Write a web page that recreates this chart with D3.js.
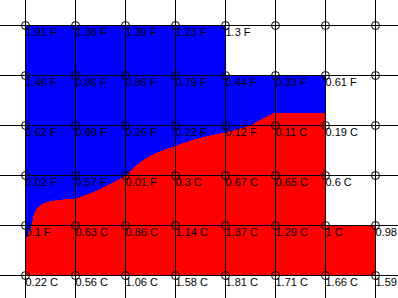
<!DOCTYPE html>
<html>
<head>
<meta charset="utf-8">
<script src="https://cdn.jsdelivr.net/npm/d3@7"></script>
<style>
  body { margin: 0; background: #fff; overflow: hidden; }
  svg { display: block; }
  text { font-family: "Liberation Sans", Arial, sans-serif; font-size: 11px; fill: #000; }
</style>
</head>
<body>
<div id="chart"></div>
<script>
// grid columns / rows (node indices)
const cols = [0, 1, 2, 3, 4, 5, 6, 7];
const rows = [0, 1, 2, 3, 4, 5];

// value read at each node, null = no reading
const amounts = [
  [1.91, 1.36, 1.39, 1.23, 1.3, null, null, null],
  [1.46, 0.86, 0.86, 0.79, 0.44, 0.33, 0.61, null],
  [0.62, 0.89, 0.26, 0.22, 0.12, 0.11, 0.19, null],
  [0.02, 0.57, 0.01, 0.3, 0.67, 0.65, 0.6, null],
  [0.1, 0.63, 0.86, 1.14, 1.37, 1.29, 1, 0.98],
  [0.22, 0.56, 1.06, 1.58, 1.81, 1.71, 1.66, 1.59]
];
// unit at each node: F counts positive (blue), C negative (red)
const units = [
  ["F", "F", "F", "F", "F", null, null, null],
  ["F", "F", "F", "F", "F", "F", "F", null],
  ["F", "F", "F", "F", "F", "C", "C", null],
  ["F", "F", "F", "C", "C", "C", "C", null],
  ["F", "C", "C", "C", "C", "C", "C", "C"],
  ["C", "C", "C", "C", "C", "C", "C", "C"]
];

const w = 398;
const h = 298;

const x = d3.scaleLinear().domain([0, cols.length - 1]).range([25, 375]);
const y = d3.scaleLinear().domain([0, rows.length - 1]).range([25, 275]);

const svg = d3.select("#chart").append("svg")
  .attr("width", w)
  .attr("height", h);

// signed value per node
const signed = rows.map(r => cols.map(c => {
  if (amounts[r][c] == null) return null;
  return units[r][c] === "F" ? amounts[r][c] : -amounts[r][c];
}));

// cells that have all four corners
const cells = [];
for (let r = 0; r < rows.length - 1; r++) {
  for (let c = 0; c < cols.length - 1; c++) {
    if (signed[r][c] != null && signed[r][c + 1] != null &&
        signed[r + 1][c] != null && signed[r + 1][c + 1] != null) {
      cells.push([c, r]);
    }
  }
}

// red base for the filled cells
svg.append("g").selectAll("rect")
  .data(cells)
  .enter()
  .append("rect")
  .attr("x", d => x(d[0]))
  .attr("y", d => y(d[1]))
  .attr("width", d => x(d[0] + 1) - x(d[0]))
  .attr("height", d => y(d[1] + 1) - y(d[1]))
  .attr("fill", "#ff0000")
  .attr("shape-rendering", "crispEdges");

// fine grid, bilinear inside each filled cell
const sub = 50;
const nx = (cols.length - 1) * sub + 1;
const ny = (rows.length - 1) * sub + 1;
const isCell = {};
cells.forEach(d => { isCell[d[0] + "," + d[1]] = true; });

function candidates(g, n) {
  const f = Math.floor(g);
  const out = [];
  if (f <= n - 2) out.push(f);
  if (f === g && f - 1 >= 0) out.push(f - 1);
  return out;
}

const grid = new Array(nx * ny);
for (let j = 0; j < ny; j++) {
  for (let i = 0; i < nx; i++) {
    const gx = i / sub, gy = j / sub;
    let v = NaN;
    candidates(gx, cols.length).forEach(c => {
      candidates(gy, rows.length).forEach(r => {
        if (!isNaN(v) || !isCell[c + "," + r]) return;
        const tx = gx - c, ty = gy - r;
        const top = signed[r][c] * (1 - tx) + signed[r][c + 1] * tx;
        const bot = signed[r + 1][c] * (1 - tx) + signed[r + 1][c + 1] * tx;
        v = top * (1 - ty) + bot * ty;
      });
    });
    grid[j * nx + i] = v;
  }
}

const contours = d3.contours().size([nx, ny]).thresholds([0])(grid);
const proj = d3.geoTransform({
  point: function (px, py) {
    this.stream.point(x((px - 0.5) / sub), y((py - 0.5) / sub));
  }
});
svg.append("path")
  .attr("d", d3.geoPath(proj)(contours[0]))
  .attr("fill", "#0000ff")
  .attr("shape-rendering", "crispEdges");

// grid lines
svg.append("g").selectAll("line")
  .data(cols)
  .enter()
  .append("line")
  .attr("x1", d => Math.round(x(d)) + 0.5)
  .attr("x2", d => Math.round(x(d)) + 0.5)
  .attr("y1", 0)
  .attr("y2", h)
  .attr("stroke", "#000");

svg.append("g").selectAll("line")
  .data(rows)
  .enter()
  .append("line")
  .attr("y1", d => Math.round(y(d)) + 0.5)
  .attr("y2", d => Math.round(y(d)) + 0.5)
  .attr("x1", 0)
  .attr("x2", w)
  .attr("stroke", "#000");

// node markers
const nodes = [];
rows.forEach(r => cols.forEach(c => nodes.push([c, r])));
svg.append("g").selectAll("circle")
  .data(nodes)
  .enter()
  .append("circle")
  .attr("cx", d => Math.round(x(d[0])) + 0.5)
  .attr("cy", d => Math.round(y(d[1])) + 0.5)
  .attr("r", 4)
  .attr("fill", "none")
  .attr("stroke", "#000");

// labels
svg.append("g").selectAll("text")
  .data(nodes.filter(d => amounts[d[1]][d[0]] != null))
  .enter()
  .append("text")
  .attr("x", d => x(d[0]) + 0.5)
  .attr("y", d => y(d[1]) + 11)
  .text(d => amounts[d[1]][d[0]] + " " + units[d[1]][d[0]]);
</script>
</body>
</html>
